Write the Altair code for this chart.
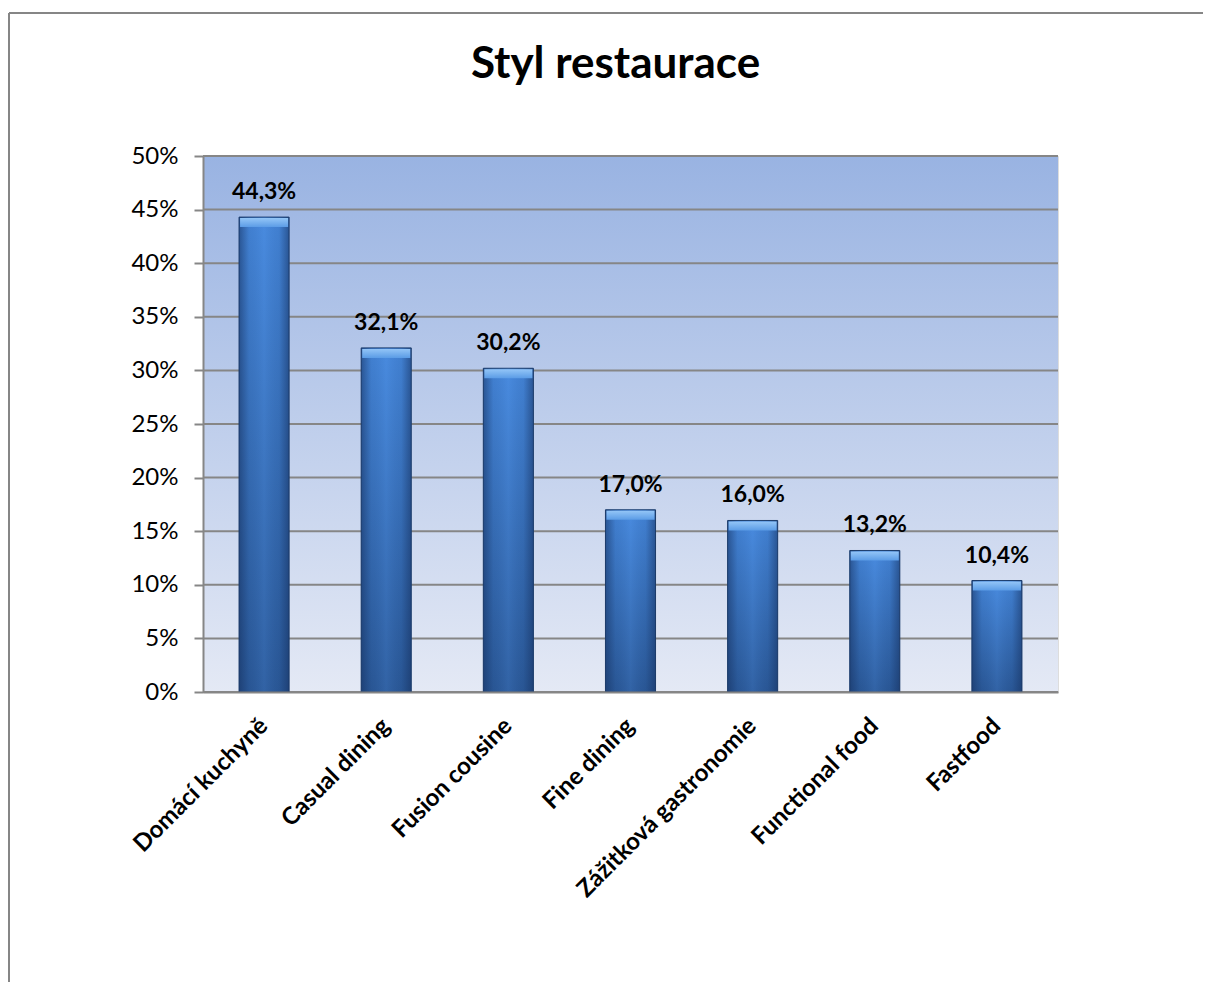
import altair as alt
import pandas as pd

categories = ["Domácí kuchyně", "Casual dining", "Fusion cousine", "Fine dining",
              "Zážitková gastronomie", "Functional food", "Fastfood"]
values = [44.3, 32.1, 30.2, 17.0, 16.0, 13.2, 10.4]
labels = [f"{v:.1f}".replace(".", ",") + "%" for v in values]
y_ticks = [0, 5, 10, 15, 20, 25, 30, 35, 40, 45, 50]
title_text = ["Styl restaurace"]

W, H = 855, 536
FONT = "Lato"
GRID = "#868686"

data = pd.DataFrame({"cat": categories, "val": values, "label": labels})
one = pd.DataFrame({"a": [0]})
ticks_df = pd.DataFrame({"val": y_ticks})
title_df = pd.DataFrame({"t": title_text})

x_axis = alt.Axis(title=None, labelAngle=-45, labelFont=FONT, labelFontWeight="bold",
                  labelFontSize=24, labelColor="black", labelPadding=30, ticks=False,
                  labelAlign="right", labelBaseline="middle",
                  labelLimit=400, domainColor=GRID, domainWidth=2, zindex=1)
y_axis = alt.Axis(values=y_ticks, labelExpr="datum.value + '%'", title=None, grid=False,
                  tickSize=9, tickColor=GRID, tickWidth=2, domainColor=GRID, domainWidth=2,
                  labelFont=FONT, labelFontSize=24, labelColor="black", labelPadding=16,
                  zindex=1)
x_scale = alt.Scale(paddingInner=0.59, paddingOuter=0.295)
y_scale = alt.Scale(domain=[0, 50])


def X():
    return alt.X("cat:N", sort=categories, scale=x_scale, axis=x_axis)


def Y():
    return alt.Y("val:Q", scale=y_scale, axis=y_axis)


bg = alt.Chart(one).mark_rect(
    fill={"gradient": "linear", "x1": 0, "x2": 0, "y1": 0, "y2": 1,
          "stops": [{"offset": 0, "color": "#99b3e2"}, {"offset": 1, "color": "#e4e9f5"}]}
).encode(x=alt.value(0), x2=alt.value(W), y=alt.value(0), y2=alt.value(H))

grid = alt.Chart(ticks_df).mark_rule(color=GRID, strokeWidth=2).encode(y=Y())

base = alt.Chart(data)

bars = base.mark_bar(
    color={"gradient": "linear", "x1": 0, "x2": 0, "y1": 0, "y2": 1,
           "stops": [{"offset": 0, "color": "#4689de"}, {"offset": 1, "color": "#2b5a9a"}]},
    stroke="#1e3f6e", strokeWidth=1
).encode(x=X(), y=Y())

shade = base.mark_bar(
    color={"gradient": "linear", "x1": 0, "x2": 1, "y1": 0, "y2": 0,
           "stops": [{"offset": 0, "color": "rgba(20,45,90,0.55)"},
                     {"offset": 0.2, "color": "rgba(20,45,90,0.1)"},
                     {"offset": 0.5, "color": "rgba(90,150,230,0.15)"},
                     {"offset": 0.8, "color": "rgba(20,45,90,0.1)"},
                     {"offset": 1, "color": "rgba(20,45,90,0.55)"}]}
).encode(x=X(), y=Y())

bevel = base.mark_tick(
    color={"gradient": "linear", "x1": 0, "x2": 0, "y1": 0, "y2": 1,
           "stops": [{"offset": 0, "color": "#93c5f7"}, {"offset": 1, "color": "#5b9ce6"}]},
    thickness=9, size=48, yOffset=5.5, opacity=1
).encode(x=X(), y=Y())

text = base.mark_text(font=FONT, fontWeight="bold", fontSize=23, color="black",
                      baseline="alphabetic", dy=-18).encode(x=X(), y=Y(), text="label:N")

title = alt.Chart(title_df).mark_text(font=FONT, fontWeight="bold", fontSize=44, color="black",
                                      baseline="alphabetic", align="center").encode(
    x=alt.value(W / 2 - 15), y=alt.value(-78), text="t:N")

border_left = alt.Chart(one).mark_rule(color=GRID, strokeWidth=2).encode(
    x=alt.value(-194), y=alt.value(-143), y2=alt.value(1000))
border_top = alt.Chart(one).mark_rule(color=GRID, strokeWidth=2).encode(
    x=alt.value(-194), x2=alt.value(1100), y=alt.value(-143))

chart = alt.layer(bg, grid, bars, shade, bevel, text, title, border_left, border_top).properties(
    width=W, height=H,
    autosize="none",
    padding={"left": 195, "top": 148, "right": 145, "bottom": 290},
).configure_view(stroke=None).configure(background="white")

chart.save("out.html", embed_options={"renderer": "svg", "actions": False})
